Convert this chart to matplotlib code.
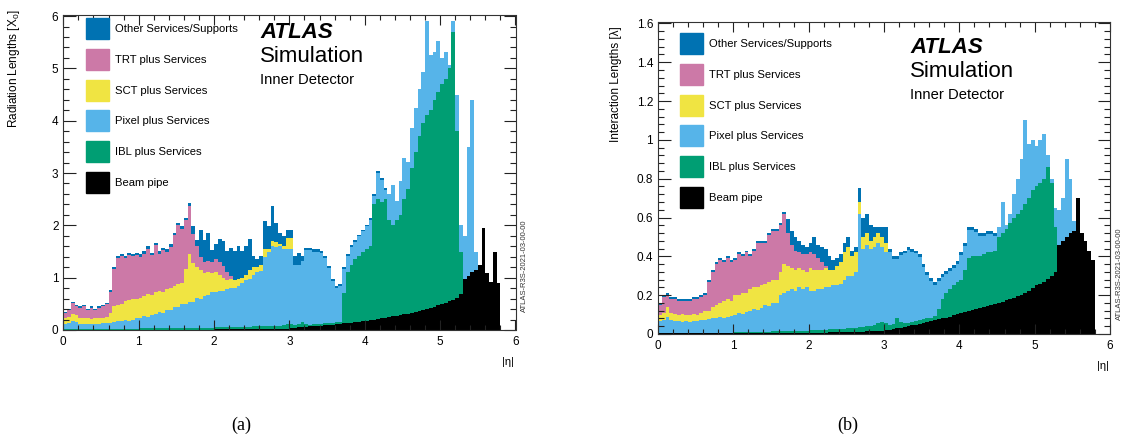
import matplotlib.pyplot as plt
import numpy as np
from matplotlib.patches import Rectangle
from matplotlib.ticker import MultipleLocator, FormatStrFormatter

plt.rcParams['font.family'] = 'Liberation Sans'

W, H = 1128, 442

# |eta| binning shared by every material profile
eta_edges = np.round(np.arange(0, 6.0001, 0.05), 2)

# ---- (a) radiation lengths, one value per 0.05 bin ----
x0_beampipe = [
    0.005, 0.005, 0.005, 0.005, 0.005, 0.005, 0.005, 0.005, 0.005, 0.005,
    0.005, 0.005, 0.005, 0.005, 0.005, 0.005, 0.005, 0.005, 0.005, 0.005,
    0.008, 0.008, 0.008, 0.008, 0.008, 0.008, 0.008, 0.008, 0.008, 0.008,
    0.008, 0.008, 0.008, 0.008, 0.008, 0.008, 0.008, 0.008, 0.008, 0.008,
    0.01, 0.01, 0.01, 0.01, 0.01, 0.015, 0.015, 0.015, 0.015, 0.015,
    0.02, 0.02, 0.02, 0.02, 0.02, 0.025, 0.025, 0.025, 0.025, 0.025,
    0.03, 0.04, 0.05, 0.06, 0.065, 0.07, 0.075, 0.08, 0.085, 0.09,
    0.1, 0.105, 0.11, 0.12, 0.125, 0.13, 0.14, 0.15, 0.16, 0.17,
    0.18, 0.19, 0.2, 0.21, 0.22, 0.23, 0.24, 0.26, 0.27, 0.28,
    0.3, 0.31, 0.33, 0.34, 0.36, 0.38, 0.4, 0.42, 0.44, 0.47,
    0.5, 0.52, 0.55, 0.58, 0.62, 0.68, 0.98, 1.04, 1.1, 1.15,
    1.25, 1.95, 1.08, 0.92, 1.5, 0.9, 0, 0, 0, 0,
]
x0_ibl = [
    0.015, 0.015, 0.015, 0.015, 0.015, 0.015, 0.015, 0.015, 0.015, 0.015,
    0.015, 0.015, 0.015, 0.015, 0.015, 0.015, 0.015, 0.015, 0.015, 0.015,
    0.022, 0.022, 0.022, 0.022, 0.022, 0.022, 0.022, 0.022, 0.022, 0.022,
    0.03, 0.03, 0.03, 0.03, 0.03, 0.03, 0.03, 0.03, 0.03, 0.03,
    0.04, 0.04, 0.04, 0.04, 0.04, 0.04, 0.04, 0.04, 0.04, 0.04,
    0.05, 0.05, 0.05, 0.05, 0.05, 0.05, 0.05, 0.06, 0.08, 0.09,
    0.09, 0.05, 0.06, 0.1, 0.055, 0.03, 0.035, 0.04, 0.035, 0.04,
    0.04, 0.035, 0.04, 0.04, 0.575, 0.97, 1.11, 1.2, 1.26, 1.33,
    1.37, 1.41, 2.2, 2.29, 2.23, 2.27, 1.86, 1.74, 1.83, 1.92,
    2.2, 2.39, 2.77, 3.06, 3.34, 3.57, 3.7, 3.78, 3.96, 4.08,
    4.2, 4.28, 4.45, 5.12, 3.18, 0.82, 0, 0, 0, 0,
    0, 0, 0, 0, 0, 0, 0, 0, 0, 0,
]
x0_pixel = [
    0.1, 0.11, 0.15, 0.14, 0.1, 0.1, 0.1, 0.1, 0.1, 0.1,
    0.11, 0.11, 0.11, 0.13, 0.15, 0.16, 0.18, 0.16, 0.18, 0.2,
    0.19, 0.23, 0.22, 0.26, 0.27, 0.31, 0.3, 0.35, 0.36, 0.41,
    0.4, 0.45, 0.46, 0.5, 0.5, 0.57, 0.56, 0.62, 0.63, 0.68,
    0.67, 0.69, 0.7, 0.73, 0.75, 0.745, 0.795, 0.845, 0.895, 0.925,
    0.98, 1.03, 1.05, 1.33, 1.43, 1.525, 1.505, 1.515, 1.445, 1.435,
    1.43, 1.16, 1.14, 1.16, 1.41, 1.43, 1.39, 1.38, 1.35, 1.25,
    1.05, 0.8, 0.66, 0.69, 0.47, 0.32, 0.34, 0.34, 0.37, 0.39,
    0.43, 0.51, 0.16, 0.5, 0.42, 0.18, 0.49, 0.78, 0.36, 0.64,
    0.79, 0.52, 0.76, 0.84, 0.9, 0.99, 1.8, 1.06, 0.92, 0.97,
    0.5, 0.52, 0.07, 0.2, 0.7, 0.5, 0.82, 2.46, 3.3, 0.35,
    0, 0, 0, 0, 0, 0, 0, 0, 0, 0,
]
x0_sct = [
    0.1, 0.11, 0.13, 0.12, 0.1, 0.1, 0.1, 0.09, 0.1, 0.1,
    0.1, 0.11, 0.2, 0.3, 0.31, 0.32, 0.35, 0.4, 0.4, 0.38,
    0.4, 0.39, 0.43, 0.37, 0.42, 0.41, 0.39, 0.4, 0.41, 0.41,
    0.44, 0.41, 0.66, 0.91, 0.75, 0.59, 0.55, 0.44, 0.45, 0.38,
    0.38, 0.31, 0.25, 0.17, 0.18, 0.15, 0.13, 0.1, 0.1, 0.17,
    0.15, 0.1, 0.13, 0.15, 0.05, 0.1, 0.1, 0.05, 0.05, 0.2,
    0.2, 0, 0, 0, 0, 0, 0, 0, 0, 0,
    0, 0, 0, 0, 0, 0, 0, 0, 0, 0,
    0, 0, 0, 0, 0, 0, 0, 0, 0, 0,
    0, 0, 0, 0, 0, 0, 0, 0, 0, 0,
    0, 0, 0, 0, 0, 0, 0, 0, 0, 0,
    0, 0, 0, 0, 0, 0, 0, 0, 0, 0,
]
x0_trt = [
    0.11, 0.15, 0.22, 0.18, 0.21, 0.24, 0.17, 0.22, 0.17, 0.21,
    0.23, 0.25, 0.39, 0.71, 0.9, 0.91, 0.83, 0.86, 0.81, 0.83,
    0.78, 0.81, 0.87, 0.77, 0.9, 0.71, 0.8, 0.71, 0.79, 0.96,
    1.12, 1.04, 0.94, 0.93, 0.55, 0.4, 0.25, 0.2, 0.2, 0.2,
    0.25, 0.25, 0.22, 0.15, 0.06, 0, 0, 0, 0, 0,
    0, 0, 0, 0, 0, 0, 0, 0, 0, 0,
    0, 0, 0, 0, 0, 0, 0, 0, 0, 0,
    0, 0, 0, 0, 0, 0, 0, 0, 0, 0,
    0, 0, 0, 0, 0, 0, 0, 0, 0, 0,
    0, 0, 0, 0, 0, 0, 0, 0, 0, 0,
    0, 0, 0, 0, 0, 0, 0, 0, 0, 0,
    0, 0, 0, 0, 0, 0, 0, 0, 0, 0,
]
x0_other = [
    0.02, 0.02, 0.02, 0.02, 0.02, 0.02, 0.02, 0.02, 0.02, 0.02,
    0.02, 0.02, 0.04, 0.04, 0.04, 0.04, 0.04, 0.04, 0.04, 0.04,
    0.05, 0.05, 0.05, 0.05, 0.05, 0.05, 0.05, 0.05, 0.05, 0.05,
    0.05, 0.05, 0.05, 0.05, 0.15, 0.13, 0.52, 0.43, 0.54, 0.24,
    0.29, 0.43, 0.48, 0.41, 0.53, 0.56, 0.62, 0.51, 0.55, 0.58,
    0.21, 0.15, 0.16, 0.53, 0.44, 0.67, 0.37, 0.21, 0.2, 0.17,
    0.17, 0.16, 0.23, 0.09, 0.04, 0.04, 0.04, 0.04, 0.04, 0.03,
    0.03, 0.03, 0.03, 0.03, 0.03, 0.03, 0.03, 0.03, 0.03, 0.03,
    0.03, 0.03, 0.03, 0.03, 0.03, 0.03, 0, 0, 0, 0,
    0, 0, 0, 0, 0, 0, 0, 0, 0, 0,
    0, 0, 0, 0, 0, 0, 0, 0, 0, 0,
    0, 0, 0, 0, 0, 0, 0, 0, 0, 0,
]

# ---- (b) interaction lengths, one value per 0.05 bin ----
lam_beampipe = [
    0.003, 0.003, 0.003, 0.003, 0.003, 0.003, 0.003, 0.003, 0.003, 0.003,
    0.003, 0.003, 0.003, 0.003, 0.003, 0.003, 0.003, 0.003, 0.003, 0.003,
    0.005, 0.005, 0.005, 0.005, 0.005, 0.005, 0.005, 0.005, 0.005, 0.005,
    0.005, 0.005, 0.005, 0.005, 0.005, 0.005, 0.005, 0.005, 0.005, 0.005,
    0.007, 0.007, 0.007, 0.007, 0.007, 0.009, 0.009, 0.009, 0.009, 0.009,
    0.012, 0.012, 0.012, 0.012, 0.012, 0.015, 0.015, 0.015, 0.015, 0.015,
    0.02, 0.023, 0.026, 0.03, 0.033, 0.037, 0.04, 0.044, 0.048, 0.052,
    0.056, 0.06, 0.065, 0.07, 0.075, 0.08, 0.085, 0.09, 0.097, 0.104,
    0.11, 0.115, 0.12, 0.125, 0.13, 0.135, 0.14, 0.145, 0.15, 0.155,
    0.16, 0.167, 0.173, 0.18, 0.187, 0.194, 0.2, 0.21, 0.22, 0.235,
    0.25, 0.26, 0.27, 0.285, 0.3, 0.32, 0.46, 0.48, 0.5, 0.52,
    0.53, 0.7, 0.52, 0.48, 0.43, 0.38, 0, 0, 0, 0,
]
lam_ibl = [
    0.004, 0.004, 0.004, 0.004, 0.004, 0.004, 0.004, 0.004, 0.004, 0.004,
    0.004, 0.004, 0.004, 0.004, 0.004, 0.004, 0.004, 0.004, 0.004, 0.004,
    0.006, 0.006, 0.006, 0.006, 0.006, 0.006, 0.006, 0.006, 0.006, 0.006,
    0.008, 0.008, 0.008, 0.008, 0.008, 0.008, 0.008, 0.008, 0.008, 0.008,
    0.012, 0.012, 0.013, 0.013, 0.014, 0.015, 0.015, 0.016, 0.017, 0.018,
    0.02, 0.02, 0.021, 0.022, 0.023, 0.024, 0.026, 0.03, 0.04, 0.045,
    0.035, 0.022, 0.024, 0.055, 0.027, 0.018, 0.018, 0.018, 0.019, 0.019,
    0.02, 0.02, 0.02, 0.021, 0.055, 0.1, 0.125, 0.14, 0.153, 0.166,
    0.17, 0.215, 0.27, 0.275, 0.27, 0.265, 0.27, 0.275, 0.27, 0.275,
    0.34, 0.353, 0.367, 0.39, 0.413, 0.426, 0.44, 0.46, 0.48, 0.505,
    0.51, 0.52, 0.53, 0.575, 0.48, 0.23, 0, 0, 0, 0,
    0, 0, 0, 0, 0, 0, 0, 0, 0, 0,
]
lam_pixel = [
    0.058, 0.063, 0.083, 0.063, 0.058, 0.058, 0.053, 0.058, 0.053, 0.058,
    0.058, 0.063, 0.063, 0.068, 0.073, 0.078, 0.083, 0.078, 0.083, 0.088,
    0.089, 0.099, 0.094, 0.104, 0.109, 0.119, 0.114, 0.124, 0.139, 0.134,
    0.147, 0.147, 0.187, 0.197, 0.207, 0.217, 0.207, 0.227, 0.217, 0.227,
    0.201, 0.201, 0.21, 0.21, 0.219, 0.216, 0.226, 0.225, 0.234, 0.253,
    0.268, 0.268, 0.287, 0.586, 0.405, 0.421, 0.399, 0.405, 0.415, 0.39,
    0.365, 0.38, 0.335, 0.3, 0.345, 0.36, 0.377, 0.363, 0.348, 0.324,
    0.269, 0.225, 0.19, 0.164, 0.145, 0.115, 0.1, 0.095, 0.09, 0.09,
    0.125, 0.125, 0.145, 0.135, 0.125, 0.105, 0.095, 0.095, 0.095, 0.075,
    0.05, 0.16, 0.02, 0.05, 0.12, 0.18, 0.26, 0.43, 0.28, 0.26,
    0.21, 0.22, 0.23, 0.06, 0.02, 0.1, 0.18, 0.22, 0.4, 0.28,
    0.05, 0, 0, 0, 0, 0, 0, 0, 0, 0,
]
lam_sct = [
    0.035, 0.04, 0.05, 0.04, 0.04, 0.035, 0.045, 0.035, 0.04, 0.04,
    0.035, 0.04, 0.05, 0.045, 0.06, 0.065, 0.07, 0.085, 0.09, 0.075,
    0.1, 0.09, 0.105, 0.095, 0.11, 0.11, 0.115, 0.115, 0.11, 0.125,
    0.12, 0.12, 0.12, 0.15, 0.13, 0.11, 0.11, 0.1, 0.1, 0.08,
    0.12, 0.11, 0.1, 0.1, 0.1, 0.09, 0.08, 0.1, 0.11, 0.14,
    0.15, 0.1, 0.1, 0.06, 0.06, 0.06, 0.04, 0.05, 0.05, 0.05,
    0.05, 0, 0, 0, 0, 0, 0, 0, 0, 0,
    0, 0, 0, 0, 0, 0, 0, 0, 0, 0,
    0, 0, 0, 0, 0, 0, 0, 0, 0, 0,
    0, 0, 0, 0, 0, 0, 0, 0, 0, 0,
    0, 0, 0, 0, 0, 0, 0, 0, 0, 0,
    0, 0, 0, 0, 0, 0, 0, 0, 0, 0,
]
lam_trt = [
    0.05, 0.08, 0.06, 0.07, 0.075, 0.07, 0.065, 0.07, 0.07, 0.075,
    0.08, 0.08, 0.08, 0.15, 0.18, 0.21, 0.22, 0.2, 0.21, 0.2,
    0.18, 0.21, 0.19, 0.21, 0.17, 0.19, 0.23, 0.22, 0.21, 0.24,
    0.25, 0.25, 0.24, 0.26, 0.17, 0.12, 0.1, 0.08, 0.08, 0.09,
    0.08, 0.08, 0.06, 0.04, 0.01, 0, 0, 0, 0, 0,
    0, 0, 0, 0, 0, 0, 0, 0, 0, 0,
    0, 0, 0, 0, 0, 0, 0, 0, 0, 0,
    0, 0, 0, 0, 0, 0, 0, 0, 0, 0,
    0, 0, 0, 0, 0, 0, 0, 0, 0, 0,
    0, 0, 0, 0, 0, 0, 0, 0, 0, 0,
    0, 0, 0, 0, 0, 0, 0, 0, 0, 0,
    0, 0, 0, 0, 0, 0, 0, 0, 0, 0,
]
lam_other = [
    0.01, 0.01, 0.01, 0.01, 0.01, 0.01, 0.01, 0.01, 0.01, 0.01,
    0.01, 0.01, 0.01, 0.01, 0.01, 0.01, 0.01, 0.01, 0.01, 0.01,
    0.01, 0.01, 0.01, 0.01, 0.01, 0.01, 0.01, 0.01, 0.01, 0.01,
    0.01, 0.01, 0.01, 0.01, 0.07, 0.07, 0.07, 0.06, 0.05, 0.04,
    0.05, 0.09, 0.07, 0.08, 0.09, 0.07, 0.05, 0.04, 0.04, 0.05,
    0.05, 0.03, 0.03, 0.07, 0.1, 0.1, 0.08, 0.05, 0.03, 0.05,
    0.08, 0.015, 0.015, 0.015, 0.015, 0.015, 0.015, 0.015, 0.015, 0.015,
    0.015, 0.015, 0.015, 0.015, 0.015, 0.015, 0.015, 0.015, 0.015, 0.015,
    0.015, 0.015, 0.015, 0.015, 0.015, 0.015, 0.015, 0.015, 0.015, 0.015,
    0, 0, 0, 0, 0, 0, 0, 0, 0, 0,
    0, 0, 0, 0, 0, 0, 0, 0, 0, 0,
    0, 0, 0, 0, 0, 0, 0, 0, 0, 0,
]

labels = ["Other Services/Supports", "TRT plus Services", "SCT plus Services",
          "Pixel plus Services", "IBL plus Services", "Beam pipe"]
colors = ["#0072B2", "#CC79A7", "#F0E442", "#56B4E9", "#009E73", "#000000"]


def px_box(left, top, right, bottom):
    return [left / W, 1 - bottom / H, (right - left) / W, (bottom - top) / H]


def draw_stack(ax, layers):
    # layers bottom-up, colours listed top-down in `colors`
    base = np.zeros(len(eta_edges) - 1)
    for vals, col in zip(layers, colors[::-1]):
        top = base + np.asarray(vals)
        ax.stairs(top, eta_edges, baseline=base, fill=True, color=col,
                  lw=0, antialiased=False)
        base = top


def style_axes(ax, ymax, ymajor, yminor, yfmt):
    ax.set_xlim(0, 6)
    ax.set_ylim(0, ymax)
    ax.xaxis.set_major_locator(MultipleLocator(1))
    ax.xaxis.set_minor_locator(MultipleLocator(0.2))
    ax.yaxis.set_major_locator(MultipleLocator(ymajor))
    ax.yaxis.set_minor_locator(MultipleLocator(yminor))
    ax.yaxis.set_major_formatter(FormatStrFormatter(yfmt))
    ax.xaxis.set_major_formatter(FormatStrFormatter('%g'))
    ax.tick_params(which='both', direction='in', top=True, right=True,
                   labelsize=8.5, width=0.8, color='#222222')
    ax.tick_params(axis='x', which='major', length=7, pad=4)
    ax.tick_params(axis='x', which='minor', length=3.5)
    ax.tick_params(axis='y', which='major', length=9, pad=3.5)
    ax.tick_params(axis='y', which='minor', length=4.5)
    for sp in ax.spines.values():
        sp.set_linewidth(0.8)
        sp.set_color('#333333')


def draw_legend(fig, x, y):
    for k, (lab, col) in enumerate(zip(labels, colors)):
        top = y + k * 30.8
        fig.patches.append(Rectangle((x / W, 1 - (top + 21) / H), 23 / W, 21 / H,
                                     transform=fig.transFigure, color=col))
        fig.text((x + 29) / W, 1 - (top + 11) / H, lab, fontsize=8.1,
                 va='center', ha='left')


def draw_atlas(fig, x, y):
    fig.text(x / W, 1 - y / H, "ATLAS", fontsize=16, fontweight='bold',
             fontstyle='italic', va='baseline')
    fig.text(x / W, 1 - (y + 24) / H, "Simulation", fontsize=16, va='baseline')
    fig.text(x / W, 1 - (y + 46) / H, "Inner Detector", fontsize=10.6,
             va='baseline')


fig = plt.figure(figsize=(W / 100, H / 100), dpi=100)

ax_a = fig.add_axes(px_box(63.3, 15, 515.5, 330))
draw_stack(ax_a, [x0_beampipe, x0_ibl, x0_pixel, x0_sct, x0_trt, x0_other])
style_axes(ax_a, 6.02, 1, 0.2, '%g')
ax_a.set_ylabel('Radiation Lengths [$\\mathregular{X_0}$]', loc='top', fontsize=8.5)
ax_a.yaxis.set_label_coords(-0.091, 1.016)
ax_a.set_xlabel('|η|', loc='right', fontsize=8)
ax_a.xaxis.set_label_coords(0.997, -0.085)

ax_b = fig.add_axes(px_box(658, 21.5, 1110, 334))
draw_stack(ax_b, [lam_beampipe, lam_ibl, lam_pixel, lam_sct, lam_trt, lam_other])
style_axes(ax_b, 1.61, 0.2, 0.04, '%g')
ax_b.set_ylabel('Interaction Lengths [λ]', loc='top', fontsize=8.5)
ax_b.yaxis.set_label_coords(-0.08, 0.985)
ax_b.set_xlabel('|η|', loc='right', fontsize=8)
ax_b.xaxis.set_label_coords(0.997, -0.085)

draw_legend(fig, 86, 18)
draw_legend(fig, 680, 33)
draw_atlas(fig, 260, 38)
draw_atlas(fig, 910, 53)

fig.text(524 / W, 1 - 266 / H, "ATLAS-R3S-2021-03-00-00", rotation=90,
         fontsize=5.5, ha='center', va='center', color='#333333')
fig.text(1119 / W, 1 - 274 / H, "ATLAS-R3S-2021-03-00-00", rotation=90,
         fontsize=5.5, ha='center', va='center', color='#333333')

fig.text(241 / W, 1 - 425 / H, "(a)", fontsize=13, family='Liberation Serif',
         ha='center', va='center')
fig.text(848 / W, 1 - 425 / H, "(b)", fontsize=13, family='Liberation Serif',
         ha='center', va='center')

fig.savefig("out.png", dpi=100)
